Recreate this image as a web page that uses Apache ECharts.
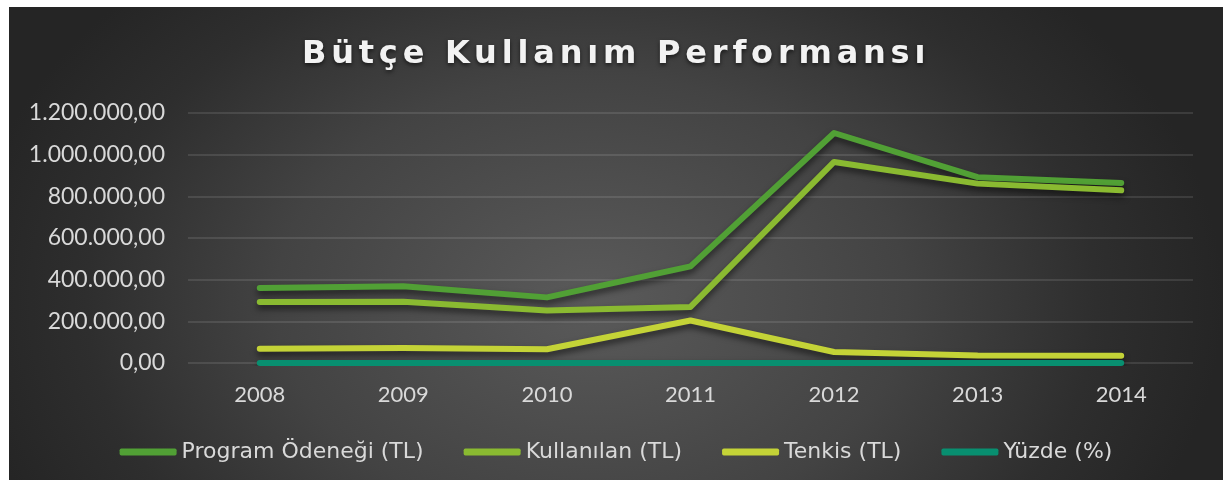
<!DOCTYPE html>
<html>
<head>
<meta charset="utf-8">
<script src="https://cdn.jsdelivr.net/npm/echarts@6/dist/echarts.min.js"></script>
<style>
html,body{margin:0;padding:0;background:#ffffff;width:1223px;height:480px;overflow:hidden;}
#chart{position:absolute;left:9px;top:7px;width:1214px;height:473px;
  background: radial-gradient(ellipse 52% 95% at 48% 62%, #5a5a5a 0%, #434343 50%, #2e2e2e 80%, #252525 100%);}
</style>
</head>
<body>
<div id="chart"></div>
<script>
const years = ['2008', '2009', '2010', '2011', '2012', '2013', '2014'];
const programOdenegi = [360000, 368000, 315000, 464000, 1104000, 892000, 864000];
const kullanilan = [293000, 294000, 252000, 269000, 965000, 861000, 829000];
const tenkis = [68000, 72000, 66000, 204000, 53000, 36000, 35000];
const yuzde = [81, 80, 80, 58, 87, 97, 96];
const seriesNames = ['Program Ödeneği (TL)', 'Kullanılan (TL)', 'Tenkis (TL)', 'Yüzde (%)'];
const colors = ['#51a035', '#8aba31', '#c4d337', '#088f70'];
const titleText = 'Bütçe Kullanım Performansı';

function fmt(v) {
  const s = Math.round(v).toString().replace(/\B(?=(\d{3})+(?!\d))/g, '.');
  return s + ',00';
}

// widen the title's letter spacing (title is the only bold 32px text)
(function () {
  const proto = CanvasRenderingContext2D.prototype;
  const orig = proto.fillText;
  proto.fillText = function (t, x, y, mw) {
    const isTitle = this.font.indexOf('32px') >= 0 && this.font.indexOf('bold') >= 0;
    if (isTitle && 'letterSpacing' in this) {
      const prev = this.letterSpacing;
      this.letterSpacing = '4.8px';
      const r = mw === undefined ? orig.call(this, t, x, y) : orig.call(this, t, x, y, mw);
      this.letterSpacing = prev;
      return r;
    }
    return mw === undefined ? orig.call(this, t, x, y) : orig.call(this, t, x, y, mw);
  };
})();

const chart = echarts.init(document.getElementById('chart'));
const font = 'Lato';
function mk(name, data, color) {
  return {
    name: name, type: 'line', data: data, symbol: 'none',
    itemStyle: { color: color },
    lineStyle: { color: color, width: 6, cap: 'round', join: 'round',
      shadowColor: 'rgba(0,0,0,0.55)', shadowBlur: 6, shadowOffsetY: 4 }
  };
}
chart.setOption({
  backgroundColor: 'transparent',
  animation: false,
  color: colors,
  title: {
    text: titleText, left: 288, top: 27,
    textStyle: { color: '#f2f2f2', fontFamily: 'DejaVu Sans', fontWeight: 'bold', fontSize: 32,
      textShadowColor: 'rgba(0,0,0,0.6)', textShadowBlur: 4, textShadowOffsetY: 2 }
  },
  grid: { left: 179, right: 30, top: 106, bottom: 117 },
  legend: {
    data: seriesNames, top: 427, left: 'center', icon: 'roundRect',
    itemWidth: 57, itemHeight: 7, itemGap: 40,
    textStyle: { color: '#d9d9d9', fontFamily: 'DejaVu Sans', fontSize: 22, lineHeight: 26 }
  },
  xAxis: {
    type: 'category', data: years, boundaryGap: true,
    axisLine: { show: false }, axisTick: { show: false },
    axisLabel: { color: '#d9d9d9', fontFamily: font, fontSize: 22, margin: 21 }
  },
  yAxis: {
    type: 'value', min: 0, max: 1200000, interval: 200000,
    axisLine: { show: false }, axisTick: { show: false },
    axisLabel: { color: '#d9d9d9', fontFamily: font, fontSize: 23, margin: 23, formatter: fmt },
    splitLine: { lineStyle: { color: 'rgba(255,255,255,0.14)', width: 1.5 } }
  },
  series: [
    mk(seriesNames[0], programOdenegi, colors[0]),
    mk(seriesNames[1], kullanilan, colors[1]),
    mk(seriesNames[2], tenkis, colors[2]),
    mk(seriesNames[3], yuzde, colors[3])
  ]
});
</script>
</body>
</html>
